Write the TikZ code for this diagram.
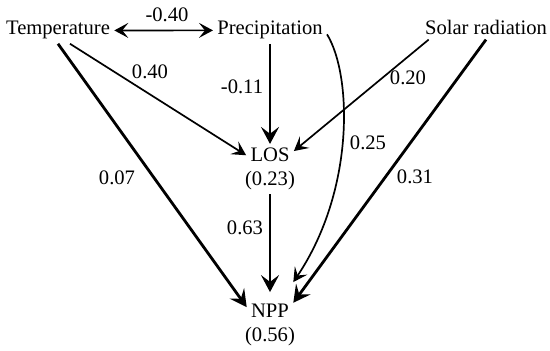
\documentclass[tikz,border=0pt]{standalone}
\usepackage{fontspec}
\setmainfont{Liberation Serif}
\usetikzlibrary{arrows.meta,positioning}

\begin{document}
\begin{tikzpicture}[x=0.5pt,y=-0.5pt,node distance=0pt,
>={Stealth[length=7pt,width=7.5pt,inset=3pt]},
var/.style={inner sep=2pt,font=\fontsize{10.3}{12}\selectfont},
coef/.style={inner sep=0pt,font=\fontsize{10.3}{12}\selectfont},
link/.style={->,line width=0.85pt},
mainlink/.style={-{Stealth[length=8.5pt,width=9pt,inset=3.4pt]},line width=1.4pt}]
\useasboundingbox (0,0) rectangle (550,351);
\node[var,anchor=base] (temp) at (58,35) {Temperature};
\node[var,anchor=base] (prec) at (270,35) {Precipitation};
\node[var,anchor=base] (solar) at (486,35) {Solar radiation};
\node[var,anchor=base] (los) at (270,162) {LOS};
\node[var,below=of los] (losv) {(0.23)};
\node[var,anchor=base] (npp) at (270,318) {NPP};
\node[var,below=of npp] (nppv) {(0.56)};
% path coefficients
\node[coef] (c1) at (167,15) {-0.40};
\node[coef] (c2) at (150,72) {0.40};
\node[coef] (c3) at (242,87) {-0.11};
\node[coef] (c4) at (117,178) {0.07};
\node[coef] (c5) at (245,228) {0.63};
\node[coef] (c6) at (408,78) {0.20};
\node[coef] (c7) at (368,143) {0.25};
\node[coef] (c8) at (415,177) {0.31};
\draw[link,<->] (temp) -- (prec);
\draw[link] ([xshift=6pt]temp.south) -- (los.west);
\draw[mainlink] (temp.south) -- (npp.170);
\draw[mainlink] (prec.south) -- (los.north);
\draw[link] ([yshift=-2pt]prec.east) .. controls (352,75) and (355,190) .. ([yshift=9pt]npp.north east);
\draw[link] ([xshift=4pt]solar.south west) -- (los.10);
\draw[mainlink] (solar.south) -- (npp.20);
\draw[mainlink] (losv.south) -- ([yshift=4pt]npp.north);
\end{tikzpicture}
\end{document}
